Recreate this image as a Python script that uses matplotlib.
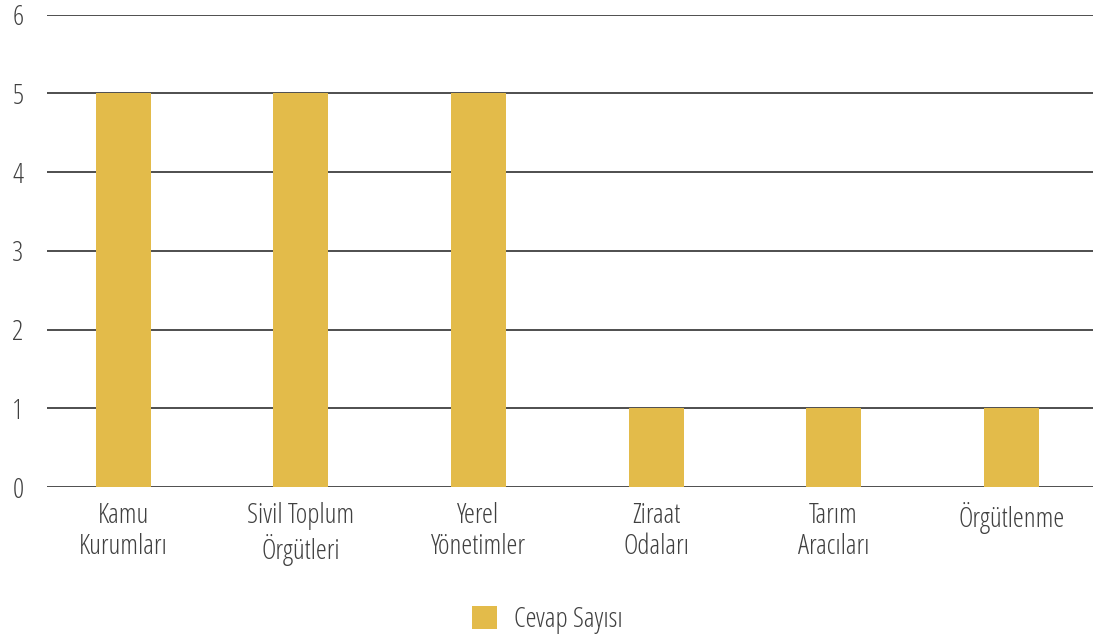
import matplotlib.pyplot as plt
import numpy as np

categories = ["Kamu\nKurumları", "Sivil Toplum\nÖrgütleri", "Yerel\nYönetimler",
              "Ziraat\nOdaları", "Tarım\nAracıları", "Örgütlenme"]
values = [5, 5, 5, 1, 1, 1]
yticks = [0, 1, 2, 3, 4, 5, 6]

plt.rcParams['font.family'] = ["Open Sans", "DejaVu Sans"]
plt.rcParams['font.stretch'] = 'condensed'
plt.rcParams['font.weight'] = 'light'

bar_color = '#E3BB4A'
text_color = '#404040'

fig = plt.figure(figsize=(10.95, 6.4), dpi=100)
ax = fig.add_axes([0.043, 0.239, 0.955, 0.738])

x = np.arange(len(categories))
ax.bar(x, values, width=0.31, color=bar_color, zorder=3, label="Cevap Sayısı")

ax.set_ylim(0, 6)
ax.set_xlim(-0.43, 5.46)
ax.set_yticks(yticks)
ax.set_yticklabels([str(v) for v in yticks], fontsize=20, color=text_color)
ax.set_xticks(x)
ax.set_xticklabels(categories, fontsize=20, color=text_color, linespacing=1.15)
ax.tick_params(length=0)
ax.tick_params(axis='y', pad=25)
ax.tick_params(axis='x', pad=11)
for lbl in ax.get_yticklabels():
    lbl.set_horizontalalignment('left')

ax.grid(axis='y', color='#404040', linewidth=1.3, zorder=0)
for s in ax.spines.values():
    s.set_visible(False)

fig.legend(loc='lower center', bbox_to_anchor=(0.5, -0.03), frameon=False,
           fontsize=20, labelcolor=text_color, handlelength=0.9, handleheight=0.9,
           handletextpad=0.6)

fig.savefig("out.png", dpi=100)
